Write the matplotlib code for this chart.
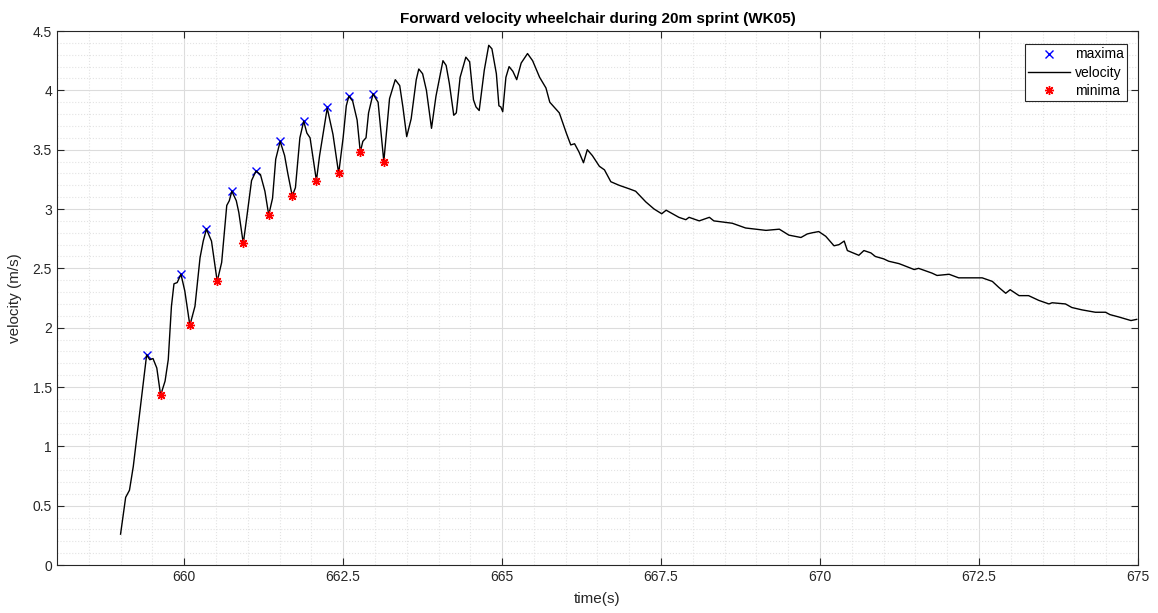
import numpy as np
import matplotlib
matplotlib.use("Agg")
import matplotlib.pyplot as plt
from matplotlib.ticker import MultipleLocator, FuncFormatter

plt.rcParams['font.family'] = ['Liberation Sans', 'DejaVu Sans']

# velocity signal
time = [659.00, 659.08, 659.14, 659.20, 659.30, 659.41, 659.46, 659.51, 659.57, 659.63,
        659.70, 659.75, 659.80, 659.84, 659.89, 659.95, 660.01, 660.09, 660.17, 660.25,
        660.30, 660.35, 660.43, 660.52, 660.59, 660.67, 660.71, 660.75, 660.82, 660.86,
        660.93, 660.98, 661.06, 661.13, 661.20, 661.27, 661.33, 661.39, 661.44, 661.51,
        661.58, 661.63, 661.70, 661.75, 661.82, 661.88, 661.93, 661.98, 662.08, 662.13,
        662.25, 662.34, 662.43, 662.50, 662.55, 662.59, 662.65, 662.72, 662.77, 662.81,
        662.86, 662.90, 662.97, 663.05, 663.14, 663.23, 663.32, 663.39, 663.44, 663.50,
        663.57, 663.65, 663.69, 663.75, 663.81, 663.89, 663.96, 664.07, 664.12, 664.17,
        664.24, 664.28, 664.34, 664.43, 664.49, 664.55, 664.59, 664.64, 664.72, 664.79,
        664.84, 664.91, 664.95, 664.98, 665.01, 665.06, 665.11, 665.17, 665.23, 665.30,
        665.40, 665.48, 665.59, 665.69, 665.75, 665.90, 666.01, 666.08, 666.14, 666.21,
        666.28, 666.34, 666.42, 666.53, 666.61, 666.71, 666.84, 667.00, 667.10, 667.26,
        667.39, 667.51, 667.58, 667.78, 667.89, 667.94, 668.10, 668.26, 668.33, 668.62,
        668.83, 669.15, 669.36, 669.51, 669.70, 669.80, 669.88, 669.98, 670.09, 670.22,
        670.30, 670.38, 670.43, 670.61, 670.69, 670.80, 670.87, 671.00, 671.08, 671.24,
        671.29, 671.48, 671.55, 671.76, 671.84, 672.03, 672.18, 672.34, 672.55, 672.71,
        672.81, 672.92, 672.99, 673.13, 673.28, 673.44, 673.60, 673.65, 673.86, 673.96,
        674.12, 674.33, 674.49, 674.56, 674.70, 674.89, 674.98]
velocity = [0.26, 0.57, 0.63, 0.83, 1.28, 1.77, 1.73, 1.74, 1.66, 1.43,
            1.55, 1.73, 2.18, 2.37, 2.38, 2.45, 2.31, 2.02, 2.18, 2.59,
            2.73, 2.83, 2.73, 2.39, 2.55, 3.03, 3.07, 3.15, 3.07, 2.97,
            2.71, 2.91, 3.24, 3.32, 3.29, 3.15, 2.95, 3.09, 3.42, 3.57,
            3.45, 3.30, 3.11, 3.18, 3.60, 3.74, 3.64, 3.60, 3.24, 3.45,
            3.85, 3.63, 3.30, 3.60, 3.87, 3.95, 3.91, 3.75, 3.48, 3.57,
            3.60, 3.81, 3.97, 3.90, 3.40, 3.93, 4.09, 4.04, 3.86, 3.61,
            3.76, 4.09, 4.18, 4.14, 4.00, 3.68, 3.95, 4.25, 4.21, 4.06,
            3.79, 3.81, 4.11, 4.28, 4.24, 3.92, 3.86, 3.83, 4.17, 4.38,
            4.35, 4.14, 3.87, 3.86, 3.82, 4.11, 4.20, 4.16, 4.09, 4.23,
            4.31, 4.25, 4.11, 4.02, 3.90, 3.81, 3.64, 3.54, 3.55, 3.48,
            3.39, 3.50, 3.45, 3.36, 3.33, 3.23, 3.20, 3.17, 3.15, 3.06,
            3.00, 2.96, 2.99, 2.93, 2.91, 2.93, 2.90, 2.93, 2.90, 2.88,
            2.84, 2.82, 2.83, 2.78, 2.76, 2.79, 2.80, 2.81, 2.77, 2.69,
            2.70, 2.73, 2.65, 2.61, 2.65, 2.63, 2.60, 2.58, 2.56, 2.54,
            2.53, 2.49, 2.50, 2.46, 2.44, 2.45, 2.42, 2.42, 2.42, 2.39,
            2.34, 2.29, 2.32, 2.27, 2.27, 2.23, 2.20, 2.21, 2.20, 2.17,
            2.15, 2.13, 2.13, 2.11, 2.09, 2.06, 2.07]

# maxima en minima (push phases)
max_t = [659.41, 659.95, 660.35, 660.75, 661.13, 661.51, 661.88, 662.25, 662.59, 662.97]
max_v = [1.77, 2.45, 2.83, 3.15, 3.32, 3.57, 3.74, 3.86, 3.95, 3.97]
min_t = [659.63, 660.09, 660.52, 660.93, 661.33, 661.70, 662.08, 662.43, 662.77, 663.14]
min_v = [1.43, 2.02, 2.39, 2.71, 2.95, 3.11, 3.24, 3.30, 3.48, 3.40]

fig = plt.figure(figsize=(11.58, 6.13), dpi=100)
ax = fig.add_axes([0.0492, 0.0783, 0.9335, 0.8711])

# matlab style '*' = + en x samen (8 spaken)
ax.plot(max_t, max_v, 'x', color='#0000ff', markersize=6, markeredgewidth=1, label='maxima')
ax.plot(time, velocity, '-', color='black', linewidth=1, label='velocity')
ax.plot(min_t, min_v, linestyle='none', marker=(8, 2, 0), color='#ff0000',
        markersize=6.5, markeredgewidth=1, label='minima')

ax.set_xlim(658, 675)
ax.set_ylim(0, 4.5)
ax.xaxis.set_major_locator(MultipleLocator(2.5))
ax.xaxis.set_minor_locator(MultipleLocator(0.5))
ax.yaxis.set_major_locator(MultipleLocator(0.5))
ax.yaxis.set_minor_locator(MultipleLocator(0.1))
fmt = FuncFormatter(lambda v, p: '%g' % v)
ax.xaxis.set_major_formatter(fmt)
ax.yaxis.set_major_formatter(fmt)

ax.grid(which='major', color='#dcdcdc', linestyle='-', linewidth=0.8)
ax.grid(which='minor', color='#e3e3e3', linestyle=':', linewidth=0.8)
ax.set_axisbelow(True)

ax.tick_params(which='major', direction='in', length=5, top=True, right=True,
               labelsize=10, colors='#262626')
ax.tick_params(which='minor', length=0)
for s in ax.spines.values():
    s.set_color('#262626')
    s.set_linewidth(0.8)

ax.set_title('Forward velocity wheelchair during 20m sprint (WK05)',
             fontsize=11, fontweight='bold', color='black', pad=6)
ax.set_xlabel('time(s)', fontsize=11, color='#262626', labelpad=6)
ax.set_ylabel('velocity (m/s)', fontsize=11, color='#262626', labelpad=8)

leg = ax.legend(loc='upper right', fontsize=10, fancybox=False, framealpha=1,
                edgecolor='#262626', handlelength=3.0, handletextpad=0.35,
                borderpad=0.25, labelspacing=0.3, borderaxespad=0,
                bbox_to_anchor=(0.9898, 0.9757))
leg.get_frame().set_linewidth(0.8)

fig.savefig('out.png', dpi=100, facecolor='white')
